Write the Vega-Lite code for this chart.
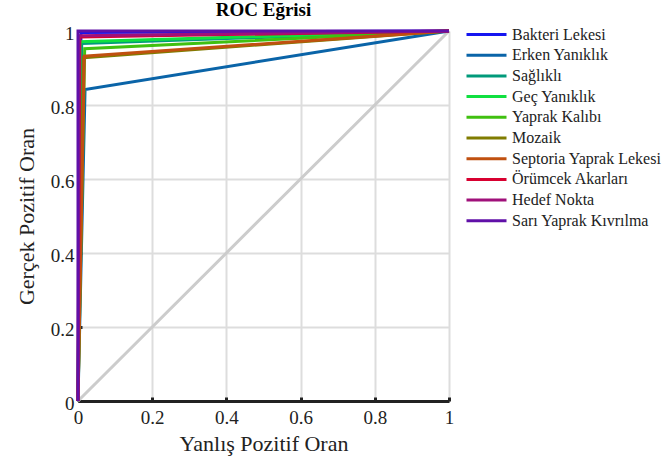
{
  "$schema": "https://vega.github.io/schema/vega-lite/v6.json",
  "width": 371,
  "height": 370,
  "autosize": {"type": "none"},
  "padding": {"left": 78, "top": 31, "right": 218, "bottom": 60},
  "background": "white",
  "title": {"text": "ROC Eğrisi", "font": "Liberation Serif", "fontSize": 19, "fontWeight": "bold", "color": "#000000", "offset": 3, "anchor": "middle"},
  "config": {
    "font": "Liberation Serif",
    "view": {"stroke": null},
    "axis": {"labelFont": "Liberation Serif", "titleFont": "Liberation Serif", "labelFontSize": 19, "titleFontSize": 22, "titleFontWeight": "normal", "labelColor": "#222222", "titleColor": "#222222", "gridColor": "#dddddd", "gridWidth": 2, "tickColor": "#222222", "tickSize": -4, "tickWidth": 3, "domainColor": "#222222", "domainWidth": 3, "labelFlush": false},
    "legend": {"labelFont": "Liberation Serif", "labelFontSize": 16, "labelColor": "#222222"}
  },
  "datasets": {
    "diag": [{"fpr": 0, "tpr": 0}, {"fpr": 1, "tpr": 1}],
    "roc": [
      {"series": "Bakteri Lekesi", "step": 0, "fpr": 0, "tpr": 0},
      {"series": "Bakteri Lekesi", "step": 1, "fpr": 0.008, "tpr": 0.996},
      {"series": "Bakteri Lekesi", "step": 2, "fpr": 1, "tpr": 1},
      {"series": "Erken Yanıklık", "step": 0, "fpr": 0, "tpr": 0},
      {"series": "Erken Yanıklık", "step": 1, "fpr": 0.019, "tpr": 0.842},
      {"series": "Erken Yanıklık", "step": 2, "fpr": 1, "tpr": 1},
      {"series": "Sağlıklı", "step": 0, "fpr": 0, "tpr": 0},
      {"series": "Sağlıklı", "step": 1, "fpr": 0.01, "tpr": 0.966},
      {"series": "Sağlıklı", "step": 2, "fpr": 1, "tpr": 1},
      {"series": "Geç Yanıklık", "step": 0, "fpr": 0, "tpr": 0},
      {"series": "Geç Yanıklık", "step": 1, "fpr": 0.006, "tpr": 0.971},
      {"series": "Geç Yanıklık", "step": 2, "fpr": 1, "tpr": 1},
      {"series": "Yaprak Kalıbı", "step": 0, "fpr": 0, "tpr": 0},
      {"series": "Yaprak Kalıbı", "step": 1, "fpr": 0.018, "tpr": 0.952},
      {"series": "Yaprak Kalıbı", "step": 2, "fpr": 1, "tpr": 1},
      {"series": "Mozaik", "step": 0, "fpr": 0, "tpr": 0},
      {"series": "Mozaik", "step": 1, "fpr": 0.015, "tpr": 0.928},
      {"series": "Mozaik", "step": 2, "fpr": 1, "tpr": 1},
      {"series": "Septoria Yaprak Lekesi", "step": 0, "fpr": 0, "tpr": 0},
      {"series": "Septoria Yaprak Lekesi", "step": 1, "fpr": 0.017, "tpr": 0.932},
      {"series": "Septoria Yaprak Lekesi", "step": 2, "fpr": 1, "tpr": 1},
      {"series": "Örümcek Akarları", "step": 0, "fpr": 0, "tpr": 0},
      {"series": "Örümcek Akarları", "step": 1, "fpr": 0.005, "tpr": 0.984},
      {"series": "Örümcek Akarları", "step": 2, "fpr": 1, "tpr": 1},
      {"series": "Hedef Nokta", "step": 0, "fpr": 0, "tpr": 0},
      {"series": "Hedef Nokta", "step": 1, "fpr": 0.003, "tpr": 0.987},
      {"series": "Hedef Nokta", "step": 2, "fpr": 1, "tpr": 1},
      {"series": "Sarı Yaprak Kıvrılma", "step": 0, "fpr": 0, "tpr": 0},
      {"series": "Sarı Yaprak Kıvrılma", "step": 1, "fpr": 0, "tpr": 1},
      {"series": "Sarı Yaprak Kıvrılma", "step": 2, "fpr": 1, "tpr": 1}
    ]
  },
  "layer": [
    {
      "data": {"name": "diag"},
      "mark": {"type": "line", "color": "#cccccc", "strokeWidth": 3},
      "encoding": {
        "x": {"field": "fpr", "type": "quantitative", "scale": {"domain": [0, 1], "nice": false}, "title": "Yanlış Pozitif Oran", "axis": {"grid": true, "values": [0, 0.2, 0.4, 0.6, 0.8, 1], "format": "~g", "labelPadding": 11, "titleY": 32}},
        "y": {"field": "tpr", "type": "quantitative", "scale": {"domain": [0, 1], "nice": false}, "title": "Gerçek Pozitif Oran", "axis": {"grid": true, "values": [0, 0.2, 0.4, 0.6, 0.8, 1], "format": "~g", "labelPadding": 8, "labelOffset": 2, "titleX": -40, "domain": false}}
      }
    },
    {
      "data": {"name": "roc"},
      "mark": {"type": "line", "strokeWidth": 3, "clip": false},
      "encoding": {
        "x": {"field": "fpr", "type": "quantitative"},
        "y": {"field": "tpr", "type": "quantitative"},
        "order": {"field": "step"},
        "color": {
          "field": "series", "type": "nominal",
          "scale": {
            "domain": ["Bakteri Lekesi", "Erken Yanıklık", "Sağlıklı", "Geç Yanıklık", "Yaprak Kalıbı", "Mozaik", "Septoria Yaprak Lekesi", "Örümcek Akarları", "Hedef Nokta", "Sarı Yaprak Kıvrılma"],
            "range": ["#1515f0", "#0a64a8", "#009a7a", "#10e040", "#40c010", "#807c00", "#c05010", "#d80030", "#a0107a", "#6010a8"]
          },
          "legend": {"title": null, "orient": "none", "legendX": 397, "legendY": -8, "symbolType": "M-2,0H2", "symbolSize": 400, "symbolStrokeWidth": 3, "rowPadding": 0.7, "labelOffset": 14, "padding": 0}
        }
      }
    }
  ]
}
